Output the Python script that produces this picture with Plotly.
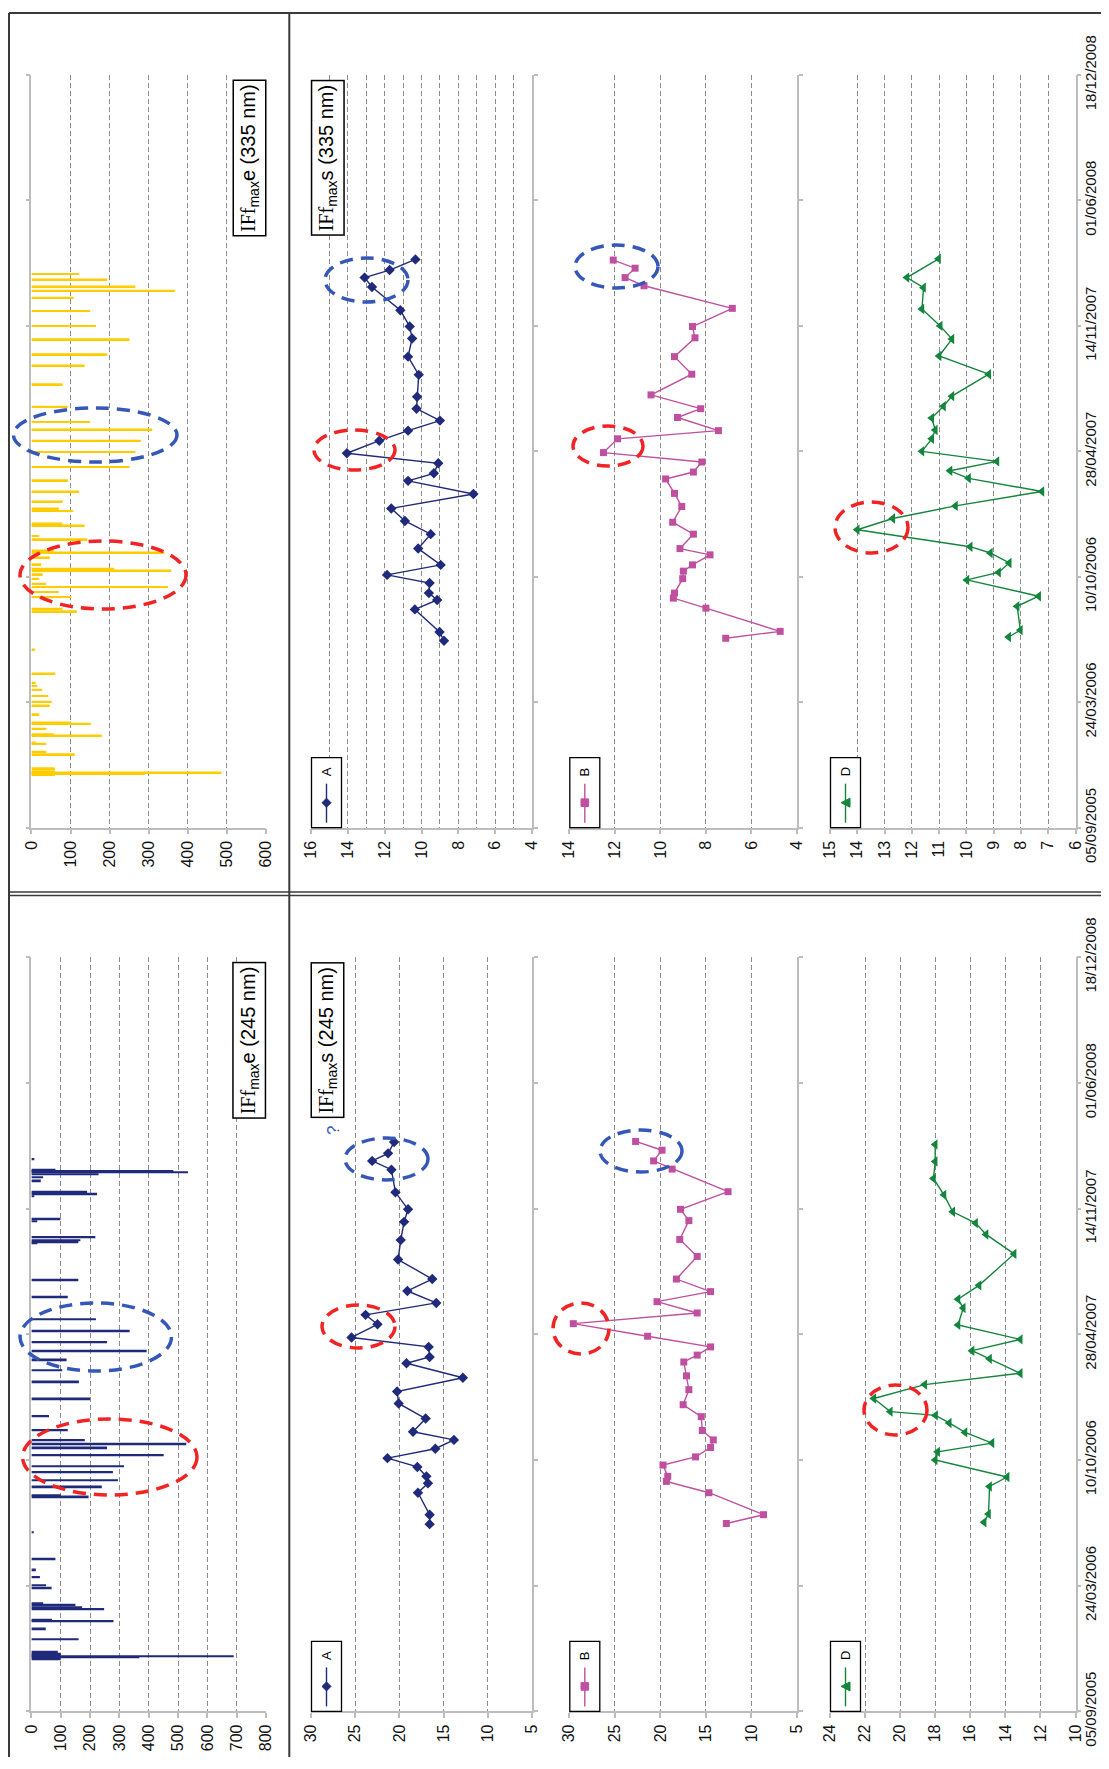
import plotly.graph_objects as go
import pandas as pd

# page is 1109x1769; the html body has an 8px margin, so the figure is sized to fit inside it
PAGE_W, PAGE_H = 1109, 1769
OFF = 8
W, H = PAGE_W - 2 * OFF, PAGE_H - 2 * OFF - 4
START = "2005-09-05"
END = "2008-12-18"
DAY_MS = 86400000

# ---------------- data (days since 05/09/2005, values) ----------------
bar335_days = [84, 86, 87, 88, 90, 95, 117, 121, 134, 136, 147, 149, 158, 166, 168, 181, 195, 201, 210, 220,
               226, 231, 246, 284, 345, 349, 368, 376, 384, 389, 397, 404, 410, 413, 420, 431, 439, 442, 460, 465,
               482, 485, 505, 509, 520, 536, 554, 575, 599, 617, 635, 647, 671, 707, 737, 755, 779, 800, 824, 845,
               856, 863, 874, 883]
bar335_vals = [60, 65, 290, 486, 60, 60, 111, 38, 38, 11, 180, 57, 38, 152, 102, 20, 47, 52, 43, 27,
               15, 11, 61, 9, 116, 79, 102, 70, 349, 38, 20, 29, 358, 212, 25, 47, 340, 57, 143, 20,
               136, 79, 107, 70, 80, 122, 93, 251, 266, 280, 309, 150, 93, 80, 136, 194, 251, 165, 150, 108,
               367, 266, 194, 122]

bar245_days = [84, 86, 88, 90, 92, 95, 115, 132, 144, 146, 163, 166, 170, 172, 197, 201, 214, 226, 243, 285,
               342, 344, 358, 368, 381, 390, 408, 420, 426, 432, 448, 470, 498, 525, 543, 560, 574, 588, 606, 624,
               660, 687, 745, 747, 750, 755, 780, 784, 820, 824, 827, 845, 850, 855, 858, 860, 862, 879]
bar245_vals = [100, 368, 690, 100, 100, 90, 161, 49, 280, 70, 248, 173, 150, 40, 69, 50, 29, 15, 82, 8,
               195, 100, 240, 295, 278, 316, 451, 258, 528, 182, 124, 60, 200, 162, 105, 120, 393, 258, 335, 220,
               124, 160, 20, 160, 167, 218, 20, 99, 10, 224, 190, 32, 40, 229, 534, 484, 82, 10]

a335_days = [298, 312, 348, 363, 374, 390, 403, 419, 445, 468, 489, 509, 532, 553, 565, 581, 597, 617, 633, 649,
             668, 687, 722, 751, 780, 799, 825, 862, 877, 889, 906]
a335_vals = [8.78, 9.02, 10.36, 9.15, 9.6, 9.56, 11.87, 8.96, 10.18, 9.5, 10.9, 11.64, 7.18, 10.73, 9.33, 9.09,
             14.05, 12.29, 10.73, 9.0, 10.27, 10.24, 10.15, 10.73, 10.51, 10.64, 11.15, 12.69, 13.09, 11.73, 10.33]

b335_days = [302, 313, 350, 366, 374, 397, 409, 419, 435, 445, 468, 487, 512, 533, 556, 567, 583, 598, 620, 633,
             654, 668, 690, 723, 751, 781, 799, 828, 864, 877, 892, 905]
b335_vals = [7.13, 4.74, 8.0, 9.43, 9.38, 9.02, 8.99, 8.59, 7.82, 9.14, 8.55, 9.46, 9.06, 9.38, 9.77, 8.55,
             8.18, 12.5, 11.88, 7.45, 9.25, 8.23, 10.41, 8.62, 9.38, 8.48, 8.59, 6.84, 10.72, 11.55, 11.11, 12.07]

d335_days = [304, 315, 353, 369, 395, 407, 422, 438, 448, 475, 493, 513, 536, 557, 569, 584, 600, 620, 634, 653,
             672, 688, 723, 752, 779, 800, 827, 861, 877, 907]
d335_vals = [8.45, 8.02, 8.14, 7.35, 9.98, 8.82, 8.43, 9.12, 9.86, 14.0, 12.7, 10.4, 7.23, 9.92, 10.6, 8.88,
             11.63, 11.27, 11.14, 11.27, 10.84, 10.53, 9.18, 11.0, 10.53, 10.96, 11.63, 11.57, 12.18, 11.02]

a245_days = [298, 313, 348, 363, 374, 389, 403, 418, 432, 445, 466, 490, 509, 531, 554, 564, 580, 595, 616, 631,
             650, 669, 688, 719, 750, 779, 799, 826, 862, 876, 888, 906]
a245_vals = [16.58, 16.58, 17.9, 16.77, 16.95, 17.97, 21.35, 15.94, 13.83, 18.46, 17.03, 20.08, 20.26, 12.82,
             19.2, 16.58, 16.69, 25.41, 22.48, 23.83, 15.83, 19.1, 16.28, 20.15, 19.85, 19.47, 19.02, 20.45,
             20.9, 23.08, 21.28, 20.6]

b245_days = [299, 313, 348, 366, 374, 392, 405, 420, 432, 447, 469, 488, 512, 534, 556, 567, 580, 597, 617, 634,
             652, 668, 688, 724, 751, 781, 799, 827, 863, 876, 893, 907]
b245_vals = [12.76, 8.68, 14.67, 19.34, 19.19, 19.71, 16.14, 14.49, 14.19, 15.4, 15.51, 17.5, 16.87, 17.13,
             17.43, 15.96, 14.49, 21.4, 29.56, 15.96, 20.37, 14.49, 18.24, 15.96, 17.87, 16.87, 17.79, 12.57,
             18.71, 20.74, 19.82, 22.72]

d245_days = [301, 314, 358, 373, 400, 413, 427, 444, 459, 471, 477, 498, 520, 538, 561, 574, 592, 615, 642, 656,
             678, 728, 759, 777, 795, 822, 848, 875, 902]
d245_vals = [15.21, 14.96, 14.9, 13.9, 18.0, 17.86, 14.76, 16.3, 17.2, 17.98, 20.56, 21.5, 18.6, 13.15, 14.9,
             15.9, 13.15, 16.7, 16.4, 16.7, 15.5, 13.5, 15.1, 15.7, 17.0, 17.5, 18.1, 18.0, 18.0]

date_ticks = ["05/09/2005", "24/03/2006", "10/10/2006", "28/04/2007", "14/11/2007", "01/06/2008", "18/12/2008"]

# ---------------- styling ----------------
NAVY = "#1F2A7A"
MAGENTA = "#C0509F"
GREEN = "#14853D"
YELLOW = "#FFCC00"
AX = "#BDBDBD"
GRID = "#8C8C8C"
RED = "#F02424"
BLUE = "#3558B8"
GDASH = "5px,3px"
TF = dict(family="Liberation Sans, Arial, sans-serif", size=16, color="#111")
TFD = dict(family="Liberation Sans, Arial, sans-serif", size=15, color="#111")


def dates(days):
    base = pd.Timestamp(START)
    return [(base + pd.Timedelta(days=int(d))).strftime("%Y-%m-%d") for d in days]


def px(x):  # page pixel -> paper fraction
    return (x - OFF) / W


def py(y):
    return 1 - (y - OFF) / H


TOP = dict(ytop=75.0, ybot=827.7)
BOT = dict(ytop=957.3, ybot=1711.4)
PBAR, PA, PB, PD = (31.4, 266.0), (311.0, 532.0), (569.3, 797.0), (830.0, 1075.5)

panels = [
    (1, TOP, PBAR, [0, 600], 100, None, "left"),
    (2, TOP, PA, [16, 4], 2, 1, "right"),
    (3, TOP, PB, [14, 4], 2, None, "right"),
    (4, TOP, PD, [15, 6], 1, None, "right"),
    (5, BOT, PBAR, [0, 800], 100, None, "left"),
    (6, BOT, PA, [30, 5], 5, None, "right"),
    (7, BOT, PB, [30, 5], 5, None, "right"),
    (8, BOT, PD, [24, 10], 2, None, "right"),
]

fig = go.Figure()
layout = dict(width=W, height=H, autosize=False, margin=dict(l=0, r=0, t=0, b=0, pad=0), showlegend=False,
              plot_bgcolor="rgba(0,0,0,0)", paper_bgcolor="white")

tickvals_dates = dates([0, 200, 400, 600, 800, 1000, 1200])

for i, half, xp, xr, dt, mdt, side in panels:
    sfx = "" if i == 1 else str(i)
    xa = dict(domain=[px(xp[0]), px(xp[1])], range=xr, anchor=f"y{sfx}", dtick=dt, tick0=0,
              showline=True, linecolor=AX, linewidth=1.5, ticks="outside", ticklen=5, tickcolor=AX,
              tickwidth=1.5, tickangle=-90, tickfont=TF, showgrid=True, gridcolor=GRID, griddash=GDASH,
              gridwidth=1, zeroline=False, fixedrange=True, automargin=False)
    if mdt:
        xa["minor"] = dict(dtick=mdt, showgrid=True, gridcolor=GRID, griddash=GDASH, gridwidth=1, ticks="")
    ya = dict(domain=[py(half["ybot"]), py(half["ytop"])], range=[START, END], type="date",
              anchor=f"x{sfx}", side=side, tickmode="array", tickvals=tickvals_dates, ticktext=date_ticks,
              showline=True, linecolor=AX, linewidth=1.5, ticks="outside", ticklen=4, tickcolor=AX,
              tickwidth=1.5, showgrid=False, zeroline=False, showticklabels=(i in (4, 8)),
              tickangle=-90, tickfont=TFD, fixedrange=True, automargin=False, ticklabelstandoff=-3)
    layout[f"xaxis{sfx}"] = xa
    layout[f"yaxis{sfx}"] = ya

bw = 3.0 * DAY_MS
fig.add_trace(go.Bar(y=dates(bar335_days), x=bar335_vals, orientation="h", width=bw,
                     marker=dict(color=YELLOW, line=dict(width=0)), xaxis="x", yaxis="y"))
fig.add_trace(go.Bar(y=dates(bar245_days), x=bar245_vals, orientation="h", width=bw,
                     marker=dict(color=NAVY, line=dict(width=0)), xaxis="x5", yaxis="y5"))

series = [
    (a335_days, a335_vals, NAVY, "diamond", 8, "x2", "y2"),
    (b335_days, b335_vals, MAGENTA, "square", 7, "x3", "y3"),
    (d335_days, d335_vals, GREEN, "triangle-left", 9, "x4", "y4"),
    (a245_days, a245_vals, NAVY, "diamond", 8, "x6", "y6"),
    (b245_days, b245_vals, MAGENTA, "square", 7, "x7", "y7"),
    (d245_days, d245_vals, GREEN, "triangle-left", 9, "x8", "y8"),
]
for d, v, c, sym, ms, xa_, ya_ in series:
    fig.add_trace(go.Scatter(y=dates(d), x=v, mode="lines+markers", line=dict(color=c, width=1.4),
                             marker=dict(symbol=sym, size=ms, color=c), xaxis=xa_, yaxis=ya_, cliponaxis=False))

shapes = []
annotations = []


def pline(x0, y0, x1, y1, color, width, dash=None):
    ln = dict(color=color, width=width)
    if dash:
        ln["dash"] = dash
    return dict(type="line", xref="paper", yref="paper", x0=px(x0), x1=px(x1), y0=py(y0), y1=py(y1),
                line=ln, layer="above")


# frame lines (stop at the figure's bottom edge)
FR = "#3a3a3a"
YEND = OFF + H
shapes.append(pline(9, 13, 9, YEND, FR, 2))
shapes.append(pline(9, 13, PAGE_W - OFF, 13, FR, 2))
shapes.append(pline(289.3, 13, 289.3, YEND, FR, 2))
shapes.append(pline(9, 892, PAGE_W - OFF, 892, FR, 1.5))
shapes.append(pline(9, 895.5, PAGE_W - OFF, 895.5, FR, 1.5))

# highlight ellipses (pixel boxes)
ellipses = [
    ((20, 541, 186, 609), RED), ((13.5, 408, 177, 462), BLUE),
    ((314, 430, 395, 470), RED), ((325, 258, 408, 302), BLUE),
    ((573, 426, 643, 466), RED), ((575, 245, 658, 288), BLUE),
    ((835, 502, 908, 553), RED),
    ((22.6, 1419, 197, 1495), RED), ((20, 1303, 171.5, 1371), BLUE),
    ((322, 1305, 395, 1348), RED), ((345, 1138, 428, 1180), BLUE),
    ((553, 1303, 609, 1354), RED), ((600, 1130, 682, 1172), BLUE),
    ((864, 1385, 927, 1435), RED),
]
for (x0, y0, x1, y1), col in ellipses:
    shapes.append(dict(type="circle", xref="paper", yref="paper", x0=px(x0), x1=px(x1), y0=py(y1), y1=py(y0),
                       line=dict(color=col, width=3.5, dash="13px,8px"), layer="above"))


def marker_path(sym, cx, cy, r):
    if sym == "diamond":
        pts = [(cx, cy - r), (cx + r, cy), (cx, cy + r), (cx - r, cy)]
    elif sym == "square":
        pts = [(cx - r, cy - r), (cx + r, cy - r), (cx + r, cy + r), (cx - r, cy + r)]
    else:  # triangle pointing left
        pts = [(cx - r, cy), (cx + r, cy - r), (cx + r, cy + r)]
    return "M " + " L ".join(f"{px(a):.5f},{py(b):.5f}" for a, b in pts) + " Z"


# legend boxes
legend_items = [("A", NAVY, "diamond", 4.5), ("B", MAGENTA, "square", 3.8), ("D", GREEN, "triangle-left", 4.5)]
for half in (TOP, BOT):
    yb = half["ybot"]
    for (name, col, sym, r), xp in zip(legend_items, (PA, PB, PD)):
        bx0 = xp[0] + 0.5
        bx1 = bx0 + 30
        by0 = yb - 70
        shapes.append(dict(type="rect", xref="paper", yref="paper", x0=px(bx0), x1=px(bx1), y0=py(yb),
                           y1=py(by0), line=dict(color="black", width=1.3), fillcolor="white", layer="above"))
        cx = (bx0 + bx1) / 2
        shapes.append(pline(cx, by0 + 26, cx, by0 + 65, col, 1.4))
        shapes.append(dict(type="path", xref="paper", yref="paper", path=marker_path(sym, cx, by0 + 45, r),
                           fillcolor=col, line=dict(color=col, width=1), layer="above"))
        annotations.append(dict(xref="paper", yref="paper", x=px(cx), y=py(by0 + 14), text=name,
                                xanchor="center", yanchor="middle", showarrow=False, textangle=-90,
                                font=dict(family="Liberation Sans, Arial", size=13, color="black")))

# boxed titles
SERIF = "Liberation Serif, Times New Roman, serif"
for half, nm in ((TOP, "335 nm"), (BOT, "245 nm")):
    cy = half["ytop"] + 83
    for cx, letter in ((249.5, "e"), (327.8, "s")):
        txt = f"<span style='font-family:{SERIF}'>IFf</span><sub>max</sub>{letter} ({nm})"
        annotations.append(dict(xref="paper", yref="paper", x=px(cx), y=py(cy), text=txt, showarrow=False,
                                xanchor="center", yanchor="middle", textangle=-90,
                                font=dict(family="Liberation Sans, Arial", size=20, color="black"),
                                bordercolor="black", borderwidth=1.5, borderpad=3, bgcolor="white"))

annotations.append(dict(xref="paper", yref="paper", x=px(333), y=py(1131), text="?", showarrow=False,
                        xanchor="center", yanchor="middle", textangle=-90,
                        font=dict(family="Liberation Sans, Arial", size=17, color=BLUE)))

layout["shapes"] = shapes
layout["annotations"] = annotations
fig.update_layout(**layout)
fig.write_html("out.html")
